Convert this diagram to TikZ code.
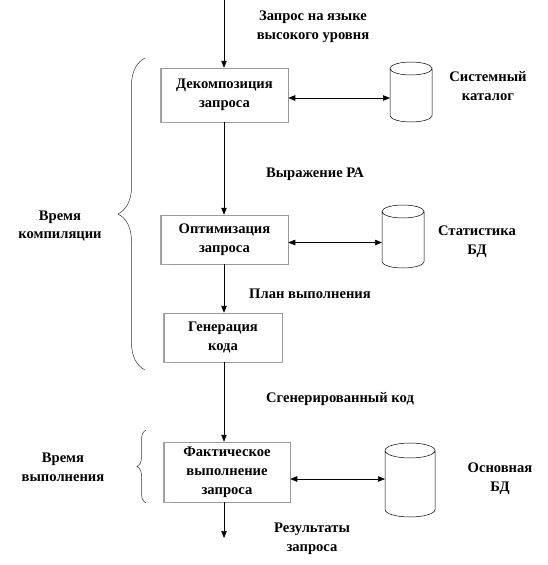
\documentclass[tikz,border=0pt]{standalone}
\usepackage{fontspec}
\setmainfont{Liberation Serif}
\usepackage{tikz}
\usetikzlibrary{arrows.meta}
\usetikzlibrary{calc}
\usetikzlibrary{decorations.pathreplacing}

\begin{document}
\begin{tikzpicture}[x=1pt, y=-1pt,
		every node/.style={font=\fontsize{14.6}{18.8}\selectfont\bfseries, align=center},
		box/.style={draw=gray!80, line width=0.5pt, inner sep=0pt},
		bd/.style={inner sep=0pt, outer sep=0pt},
		arr/.style={-{Triangle[length=7pt,width=5.5pt]}, line width=0.6pt},
		dblarr/.style={{Triangle[length=7pt,width=5.5pt]}-{Triangle[length=7pt,width=5.5pt]}, line width=0.6pt},
		brc/.style={decorate, decoration={brace, amplitude=#1}, line width=0.5pt, draw=black!80}]
	\useasboundingbox (0,0) rectangle (547,565);
	
	% блоки
	\node[box, minimum width=127, minimum height=54] (dek) at (224.5,95) {Декомпозиция\\запроса};
	\node[box, minimum width=127, minimum height=49] (opt) at (224.5,239.5) {Оптимизация\\запроса};
	\node[box, minimum width=118, minimum height=49] (gen) at (223,337.5) {Генерация\\кода};
	\node[box, minimum width=126, minimum height=60] (fakt) at (227,472) {Фактическое\\выполнение\\запроса};
	
	% тень слева
	\foreach \b in {dek,opt,gen,fakt}
		\draw[gray!70, line width=1.4pt] (\b.north west) -- (\b.south west) -- ([xshift=8]\b.south west);
	
	% базы данных
	\node[bd, minimum width=42, minimum height=60] (sys) at (411,92) {};
	\node[bd, minimum width=42, minimum height=63] (stat) at (403,236.5) {};
	\node[bd, minimum width=50, minimum height=74] (osn) at (410,480) {};
	\foreach \c/\r in {sys/6.5, stat/6.5, osn/7.5}
		\draw[line width=0.5pt] let \p1=(\c.north west), \p2=(\c.south east), \n1={(\x2-\x1)/2} in
			($(\c.north)+(0,\r)$) ellipse [x radius=\n1, y radius=\r pt]
			(\x1,\y1-\r pt) -- (\x1,\y2+\r pt) arc [start angle=180, end angle=360, x radius=\n1, y radius=\r pt] -- (\x2,\y1-\r pt);
	
	% подписи
	\node (zapr) at (313,27) {Запрос на языке\\высокого уровня};
	\node (ra) at (315,174) {Выражение РА};
	\node (plan) at (310,294) {План выполнения};
	\node (kod) at (340,399) {Сгенерированный код};
	\node (rez) at (312,539) {Результаты\\запроса};
	\node (syslbl) at (488,86) {Системный\\каталог};
	\node (statlbl) at (477,242) {Статистика\\БД};
	\node (osnlbl) at (500,479) {Основная\\БД};
	\node (komp) at (60,226) {Время\\компиляции};
	\node (vyp) at (63,467) {Время\\выполнения};
	
	% стрелки
	\coordinate (vhod) at (224,0);
	\coordinate (vyhod) at (224,538);
	\draw[arr] (vhod) -- (vhod |- dek.north);
	\draw[arr] (dek.south -| vhod) -- (vhod |- opt.north);
	\draw[arr] (opt.south -| vhod) -- (vhod |- gen.north);
	\draw[arr] (gen.south -| vhod) -- (vhod |- fakt.north);
	\draw[arr] (fakt.south -| vhod) -- (vyhod);
	
	\draw[dblarr] ([yshift=-3]dek.east) -- ([yshift=-3]dek.east -| sys.west);
	\draw[dblarr] ([yshift=-3]opt.east) -- ([yshift=-3]opt.east -| stat.west);
	\draw[dblarr] ([yshift=-7]fakt.east) -- ([yshift=-7]fakt.east -| osn.west);
	
	% скобки
	\draw[brc=27] (145,370) -- (145,58);
	\draw[brc=9] (146,503) -- (146,430);
\end{tikzpicture}
\end{document}
